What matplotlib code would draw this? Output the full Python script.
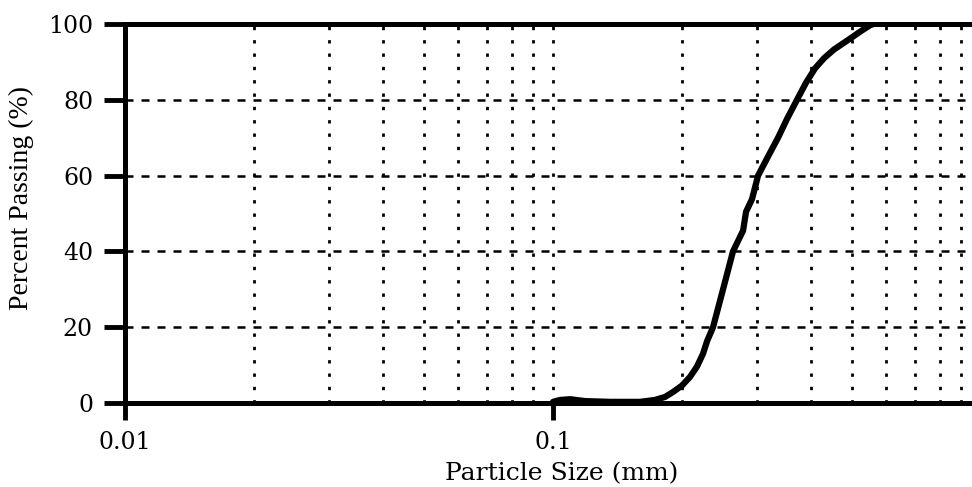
import matplotlib
matplotlib.use("Agg")
import matplotlib.pyplot as plt
from matplotlib.ticker import FixedLocator, NullFormatter

# Particle size distribution
size_mm = [0.100, 0.1038, 0.1096, 0.1188, 0.1359, 0.1596, 0.1730, 0.1827,
           0.1907, 0.2001, 0.2090, 0.2169, 0.2241, 0.2290, 0.2365, 0.2496,
           0.2633, 0.2780, 0.2825, 0.2917, 0.3013, 0.3178, 0.3355, 0.3522,
           0.3715, 0.3899, 0.4093, 0.4297, 0.4534, 0.4890, 0.5217, 0.5503,
           0.5600]
percent_passing = [0.3, 0.8, 1.0, 0.5, 0.3, 0.3, 0.8, 1.6,
                   2.9, 4.6, 6.9, 9.6, 13.0, 16.3, 20.0, 30.0,
                   40.0, 45.5, 50.5, 53.8, 60.0, 65.0, 70.0, 75.0,
                   80.0, 84.5, 88.3, 91.0, 93.3, 95.8, 98.0, 99.7,
                   100.0]

x_major = [0.01, 0.1, 1]
x_major_labels = ["0.01", "0.1", "1"]
x_grid = [0.02, 0.03, 0.04, 0.05, 0.06, 0.07, 0.08, 0.09, 0.1,
          0.2, 0.3, 0.4, 0.5, 0.6, 0.7, 0.8, 0.9]
y_ticks = [0, 20, 40, 60, 80, 100]
y_grid = [20, 40, 60, 80]

fig = plt.figure(figsize=(9.72, 4.87), dpi=100)
ax = fig.add_axes([0.1286, 0.1725, 0.8807, 0.778])

ax.set_xscale("log")
ax.set_xlim(0.01, 1)
ax.set_ylim(0, 100)

# grid lines
for gx in x_grid:
    ax.axvline(gx, color="black", lw=2.0, linestyle=(0, (1.2, 3.6)), zorder=1)
for gy in y_grid:
    ax.axhline(gy, color="black", lw=1.8, linestyle=(0, (3.2, 3.2)), zorder=1)

ax.plot(size_mm, percent_passing, color="black", lw=4.5, zorder=3,
        solid_joinstyle="round", solid_capstyle="round")

ax.xaxis.set_major_locator(FixedLocator(x_major))
ax.set_xticklabels(x_major_labels)
ax.xaxis.set_minor_locator(FixedLocator([]))
ax.xaxis.set_minor_formatter(NullFormatter())
ax.set_yticks(y_ticks)

for lab in ax.get_xticklabels() + ax.get_yticklabels():
    lab.set_fontfamily("DejaVu Serif")
    lab.set_fontsize(17)

ax.tick_params(axis="x", which="major", direction="out", length=12, width=3.5, pad=8)
ax.tick_params(axis="y", which="major", direction="out", length=15, width=3.5, pad=8)

for side in ["left", "bottom", "top", "right"]:
    ax.spines[side].set_linewidth(3.6)
    ax.spines[side].set_color("black")

ax.set_xlabel("Particle Size (mm)", fontfamily="DejaVu Serif", fontsize=18)
ax.set_ylabel("Percent Passing (%)", fontfamily="Liberation Serif", fontsize=20)
ax.xaxis.set_label_coords(0.51, -0.155)
ax.yaxis.set_label_coords(-0.106, 0.54)

fig.savefig("out.png", dpi=100)
